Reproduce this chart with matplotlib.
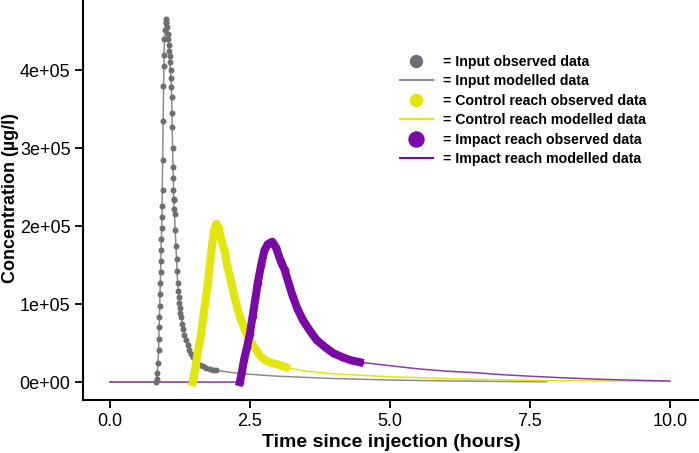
import matplotlib
matplotlib.use("Agg")
import matplotlib.pyplot as plt
from matplotlib.lines import Line2D

# observed input (time in hours, concentration in ug/l)
input_obs_t = [0.83, 0.84, 0.85, 0.86, 0.87, 0.875, 0.88, 0.885, 0.89, 0.895, 0.90, 0.905,
               0.91, 0.915, 0.92, 0.925, 0.93, 0.935, 0.94, 0.945, 0.95, 0.955, 0.96, 0.965,
               0.975, 0.985, 0.995, 1.00, 1.01, 1.02, 1.03, 1.04, 1.05, 1.06, 1.07, 1.08,
               1.09, 1.095, 1.10, 1.105, 1.11, 1.115, 1.12, 1.125, 1.13, 1.135, 1.14, 1.145,
               1.15, 1.16, 1.17, 1.18, 1.19, 1.20, 1.21, 1.22, 1.23, 1.24, 1.25, 1.26, 1.27,
               1.29, 1.31, 1.33, 1.36, 1.39, 1.42, 1.45, 1.48, 1.52, 1.56, 1.61, 1.66, 1.72,
               1.78, 1.84, 1.90]
input_obs_c = [0, 4000, 12000, 25000, 41000, 55000, 70000, 84000, 98000, 113000, 127000, 141000,
               155000, 169000, 184000, 198000, 212000, 226000, 246000, 285000, 335000, 380000, 405000, 420000,
               440000, 452000, 460000, 466000, 462000, 455000, 447000, 440000, 432000, 425000, 418000, 411000,
               400000, 390000, 378000, 365000, 345000, 327000, 300000, 276000, 262000, 246000, 235000, 222000,
               233000, 215000, 195000, 175000, 158000, 142000, 127000, 117000, 109000, 101000, 95000, 89000, 84000,
               75000, 68000, 61000, 54000, 47000, 41000, 36000, 32000, 28000, 25000, 22000, 20000, 18000,
               16500, 15500, 15000]

input_mod_t = [0, 0.82, 0.84, 0.87, 0.90, 0.93, 0.95, 0.97, 1.00, 1.02, 1.06, 1.10, 1.12, 1.14,
               1.17, 1.21, 1.27, 1.36, 1.48, 1.66, 1.90, 2.2, 2.5, 3.0, 3.5, 4.0, 5.0, 6.0, 7.0, 7.8]
input_mod_c = [0, 0, 5000, 41000, 127000, 212000, 330000, 430000, 463000, 455000, 425000, 380000,
               300000, 235000, 190000, 127000, 84000, 54000, 32000, 20000, 15000, 12000, 10000, 7500,
               6000, 4500, 2600, 1500, 800, 400]

control_obs_t = [1.48, 1.50, 1.53, 1.56, 1.60, 1.63, 1.66, 1.70, 1.75, 1.79, 1.83, 1.86, 1.90,
                 1.94, 1.98, 2.02, 2.05, 2.10, 2.17, 2.24, 2.32, 2.42, 2.53, 2.62, 2.70, 2.80,
                 2.92, 3.03, 3.14]
control_obs_c = [0, 8000, 20000, 35000, 50000, 62000, 80000, 100000, 127000, 155000, 178000, 195000, 203000,
                 198000, 185000, 175000, 167000, 148000, 127000, 105000, 84000, 65000, 50000, 40000, 32000, 27000,
                 24000, 22000, 19000]

control_mod_t = [0, 1.47] + control_obs_t[1:] + [3.5, 4.0, 5.0, 6.0, 7.24, 8.0, 9.0, 10.0]
control_mod_c = [0, 0] + control_obs_c[1:] + [14000, 10500, 6800, 4500, 2500, 1800, 1300, 1000]

impact_obs_t = [2.32, 2.35, 2.40, 2.45, 2.50, 2.55, 2.60, 2.64, 2.70, 2.76, 2.82, 2.90, 2.97,
                3.05, 3.12, 3.20, 3.27, 3.35, 3.45, 3.57, 3.69, 3.84, 3.99, 4.15, 4.30, 4.46]
impact_obs_c = [0, 10000, 30000, 45000, 62000, 85000, 108000, 127000, 150000, 169000, 177000, 180000, 172000,
                155000, 144000, 125000, 109000, 94000, 79000, 66000, 54000, 45000, 37000, 32000, 28000, 25500]

impact_mod_t = [0, 2.31] + impact_obs_t[1:] + [5.0, 5.5, 6.0, 6.53, 7.0, 7.5, 8.0, 8.65, 9.3, 10.0]
impact_mod_c = [0, 0] + impact_obs_c[1:] + [21000, 17000, 14000, 12000, 9500, 7500, 5800, 3800, 2500, 1300]

grey_obs = "#6e6e72"
grey_mod = "#8c8c8c"
yellow = "#e3e60c"
purple = "#7a0aa6"
purple_mod = "#8a3ab0"

plt.rcParams["font.family"] = ["Liberation Sans", "DejaVu Sans"]

fig = plt.figure(figsize=(6.99, 4.53), dpi=100)
ax = fig.add_axes([83 / 699, 53 / 453, 1 - 83 / 699, 1 - 53 / 453])

# modelled lines
ax.plot(input_mod_t, input_mod_c, color=grey_mod, lw=1.1, zorder=2)
ax.plot(control_mod_t, control_mod_c, color=yellow, lw=1.1, zorder=2)
ax.plot(impact_mod_t, impact_mod_c, color=purple_mod, lw=1.1, zorder=2)

# observed data
ax.plot(input_obs_t, input_obs_c, "o", color=grey_obs, ms=3.3, zorder=3)
ax.plot(control_obs_t, control_obs_c, "o-", color=yellow, ms=4.5, lw=5.8, zorder=3)
ax.plot(impact_obs_t, impact_obs_c, "o-", color=purple, ms=4.5, lw=5.8, zorder=4)

ax.set_xlim(-0.48, 10.52)
ax.set_ylim(-23000, 490000)
ax.set_xticks([0, 2.5, 5.0, 7.5, 10.0])
ax.set_xticklabels(["0.0", "2.5", "5.0", "7.5", "10.0"])
ax.set_yticks([0, 100000, 200000, 300000, 400000])
ax.set_yticklabels(["0e+00", "1e+05", "2e+05", "3e+05", "4e+05"])

for s in ["top", "right"]:
    ax.spines[s].set_visible(False)
for s in ["left", "bottom"]:
    ax.spines[s].set_linewidth(1.5)
ax.tick_params(axis="both", length=6, width=1.3, labelsize=13, pad=3)

ax.set_xlabel("Time since injection (hours)", fontsize=14, fontweight="bold", labelpad=3)
ax.set_ylabel("Concentration (\u00b5g/l)", fontsize=13, fontweight="bold")
ax.yaxis.set_label_coords((19 - 83) / 616, 0.505)

handles = [
    Line2D([], [], ls="", marker="o", ms=8.6, color=grey_obs),
    Line2D([], [], color=grey_mod, lw=1.5),
    Line2D([], [], ls="", marker="o", ms=8.6, color=yellow),
    Line2D([], [], color=yellow, lw=1.5),
    Line2D([], [], ls="", marker="o", ms=10.8, color=purple),
    Line2D([], [], color=purple, lw=1.5),
]
labels = ["= Input observed data", "= Input modelled data",
          "= Control reach observed data", "= Control reach modelled data",
          "= Impact reach observed data", "= Impact reach modelled data"]
leg = ax.legend(handles, labels, loc="upper left", bbox_to_anchor=(400 / 699, 1 - 55 / 453),
                bbox_transform=fig.transFigure, frameon=False, borderpad=0, borderaxespad=0,
                handlelength=2.3, handletextpad=0.7, labelspacing=0.38,
                prop={"size": 10.2, "weight": "bold"})

fig.savefig("out.png", dpi=100)
